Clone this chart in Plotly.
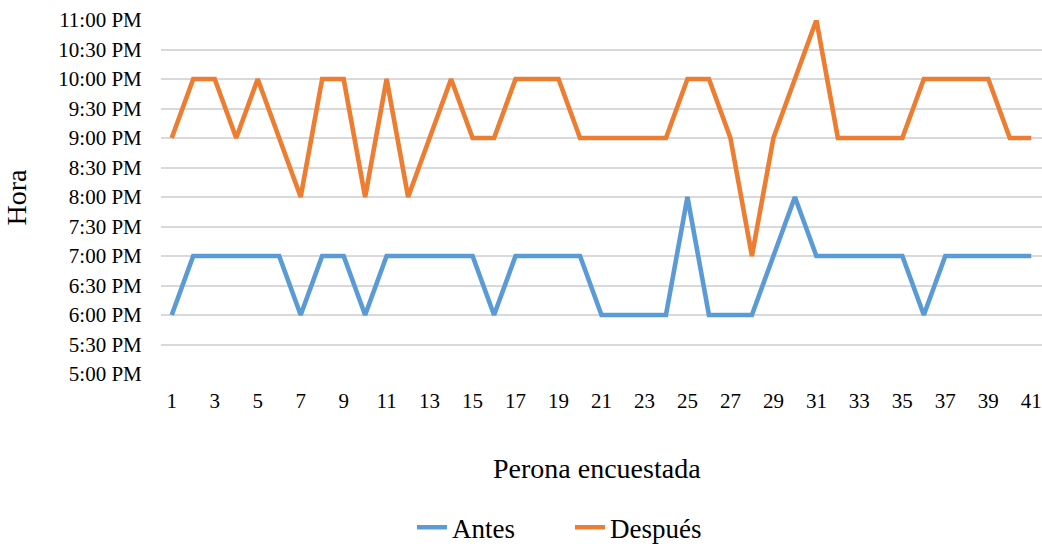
import plotly.graph_objects as go

# Persona encuestada 1..41
personas = list(range(1, 42))

# Hora en horas decimales (formato 24 h)
antes = [18, 19, 19, 19, 19, 19, 18, 19, 19, 18,
         19, 19, 19, 19, 19, 18, 19, 19, 19, 19,
         18, 18, 18, 18, 20, 18, 18, 18, 19, 20,
         19, 19, 19, 19, 19, 18, 19, 19, 19, 19, 19]
despues = [21, 22, 22, 21, 22, 21, 20, 22, 22, 20,
           22, 20, 21, 22, 21, 21, 22, 22, 22, 21,
           21, 21, 21, 21, 22, 22, 21, 19, 21, 22,
           23, 21, 21, 21, 21, 22, 22, 22, 22, 21, 21]

tick_vals = [17, 17.5, 18, 18.5, 19, 19.5, 20, 20.5, 21, 21.5, 22, 22.5, 23]
tick_text = ["5:00 PM", "5:30 PM", "6:00 PM", "6:30 PM", "7:00 PM", "7:30 PM",
             "8:00 PM", "8:30 PM", "9:00 PM", "9:30 PM", "10:00 PM", "10:30 PM",
             "11:00 PM"]
x_ticks = list(range(1, 42, 2))

FONT = "Liberation Serif, Times New Roman, serif"

fig = go.Figure()
fig.add_trace(go.Scatter(x=personas, y=antes, mode="lines", name="Antes",
                         line=dict(color="#5b9bd5", width=4.6)))
fig.add_trace(go.Scatter(x=personas, y=despues, mode="lines", name="Después",
                         line=dict(color="#ed7d31", width=4.6)))

fig.update_layout(
    width=1042, height=544,
    margin=dict(l=161, r=0, t=20, b=170, autoexpand=False),
    paper_bgcolor="white", plot_bgcolor="white",
    font=dict(family=FONT, color="#000000", size=21),
    showlegend=True,
    legend=dict(orientation="h", x=0.547, xanchor="center", xref="container",
                y=0.03, yanchor="middle", yref="container",
                font=dict(family=FONT, size=27, color="#000000"),
                itemwidth=30, entrywidth=113, traceorder="normal"),
    xaxis=dict(range=[0.5, 41.5], tickvals=x_ticks, ticktext=[str(v) for v in x_ticks],
               showgrid=False, zeroline=False, showline=False,
               ticks="outside", ticklen=8, tickcolor="rgba(0,0,0,0)",
               tickfont=dict(family=FONT, size=21, color="#000000")),
    yaxis=dict(range=[17, 23], tickvals=tick_vals, ticktext=tick_text,
               showgrid=True, gridcolor="#d9d9d9", gridwidth=1.5,
               zeroline=False, showline=False,
               ticks="outside", ticklen=14, tickcolor="rgba(0,0,0,0)",
               tickfont=dict(family=FONT, size=21, color="#000000")),
    annotations=[
        dict(text="Hora", xref="paper", yref="paper", x=0, y=0.5,
             xshift=-163, textangle=-90, showarrow=False,
             font=dict(family=FONT, size=28, color="#000000")),
        dict(text="Perona encuestada", xref="paper", yref="paper", x=0.5, y=0,
             xshift=-5, yshift=-112, showarrow=False,
             font=dict(family=FONT, size=28, color="#000000")),
    ],
)

fig.write_html("out.html")
